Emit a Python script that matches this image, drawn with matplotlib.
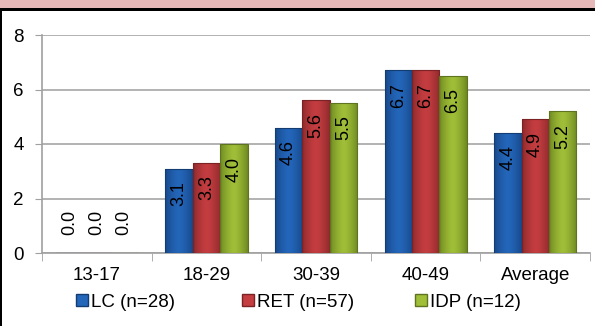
import matplotlib

matplotlib.use("Agg")
import matplotlib.pyplot as plt  # noqa: E402
import numpy as np  # noqa: E402
from matplotlib.colors import LinearSegmentedColormap  # noqa: E402
from matplotlib.patches import Rectangle  # noqa: E402
from matplotlib.lines import Line2D  # noqa: E402

plt.rcParams["font.family"] = ["Liberation Sans", "DejaVu Sans"]

categories = ["13-17", "18-29", "30-39", "40-49", "Average"]
series = ["LC (n=28)", "RET (n=57)", "IDP (n=12)"]
lc = [0.0, 3.1, 4.6, 6.7, 4.4]
ret = [0.0, 3.3, 5.6, 6.7, 4.9]
idp = [0.0, 4.0, 5.5, 6.5, 5.2]

# (edge shade, centre shade) for the bevelled look
shades = [("#17498A", "#2466BA"), ("#8E2A2C", "#C43D40"), ("#6F8A22", "#A0BE38")]
outline = ["#123C72", "#7A2224", "#5E7420"]
legend_x = [76, 242, 415]  # left edge of each legend entry, px

W, H = 595, 326
fig = plt.figure(figsize=(W / 100, H / 100), dpi=100)

# frame decorations: pink band, black rule, left border
fig.patches.append(Rectangle((0, (H - 8) / H), 1, 8 / H, transform=fig.transFigure,
                             facecolor="#E6B8B7", edgecolor="none"))
fig.patches.append(Rectangle((0, (H - 11) / H), 1, 3 / H, transform=fig.transFigure,
                             facecolor="black", edgecolor="none"))
fig.patches.append(Rectangle((0, 0), 1.6 / W, (H - 8) / H, transform=fig.transFigure,
                             facecolor="black", edgecolor="none"))

ax = fig.add_axes([42 / W, (H - 253) / H, (590 - 42) / W, (253 - 35) / H])

x = np.arange(len(categories))
bw = 0.25
grad = np.abs(np.linspace(-1, 1, 64))[None, :] ** 1.5
for j, (vals, (c_edge, c_mid), oc) in enumerate(zip([lc, ret, idp], shades, outline)):
    cmap = LinearSegmentedColormap.from_list(f"s{j}", [c_mid, c_edge])
    pos = x + (j - 1) * bw
    bars = ax.bar(pos, vals, width=bw, facecolor="none", edgecolor=oc,
                  linewidth=0.8, zorder=4)
    for b in bars:
        if b.get_height() <= 0:
            continue
        im = ax.imshow(grad, cmap=cmap, vmin=0, vmax=1, aspect="auto", zorder=3,
                       extent=[b.get_x(), b.get_x() + b.get_width(), 0, b.get_height()],
                       interpolation="bilinear")
        im.set_clip_path(b)
    for xp, v in zip(pos, vals):
        if v > 0:
            ax.annotate(f"{v:.1f}", (xp, v), xytext=(0, -9), textcoords="offset points",
                        rotation=90, ha="center", va="top", fontsize=13, zorder=5)
        else:
            ax.annotate(f"{v:.1f}", (xp, v), xytext=(0, 13), textcoords="offset points",
                        rotation=90, ha="center", va="bottom", fontsize=13, zorder=5)

ax.set_xlim(-0.5, len(categories) - 0.5)
ax.set_ylim(0, 8)
ax.set_yticks([0, 2, 4, 6, 8])
ax.set_xticks(x)
ax.set_xticklabels(categories)
ax.set_xticks(np.arange(len(categories) + 1) - 0.5, minor=True)
ax.tick_params(axis="x", which="major", length=0, labelsize=13.5, pad=10)
ax.tick_params(axis="x", which="minor", length=6, color="#A0A0A0", direction="out")
ax.tick_params(axis="y", length=5, color="#A0A0A0", labelsize=13.5, pad=8)
ax.yaxis.grid(True, color="#A6A6A6", linewidth=1.2, zorder=0)
ax.set_axisbelow(True)
for s in ["top", "right"]:
    ax.spines[s].set_visible(False)
for s in ["left", "bottom"]:
    ax.spines[s].set_color("#A0A0A0")
    ax.spines[s].set_linewidth(1.2)

# one legend per entry so the columns sit where the original has them
for (e, m), oc, name, lx in zip(shades, outline, series, legend_x):
    h = Line2D([], [], marker="s", linestyle="none", markersize=8.5,
               markerfacecolor=m, markeredgecolor=oc)
    fig.legend([h], [name], loc="center left", bbox_to_anchor=(lx / W, (H - 302) / H),
               frameon=False, fontsize=13.5, handlelength=0.6, handletextpad=0.2,
               borderpad=0, borderaxespad=0)

fig.savefig("out.png", dpi=100)
